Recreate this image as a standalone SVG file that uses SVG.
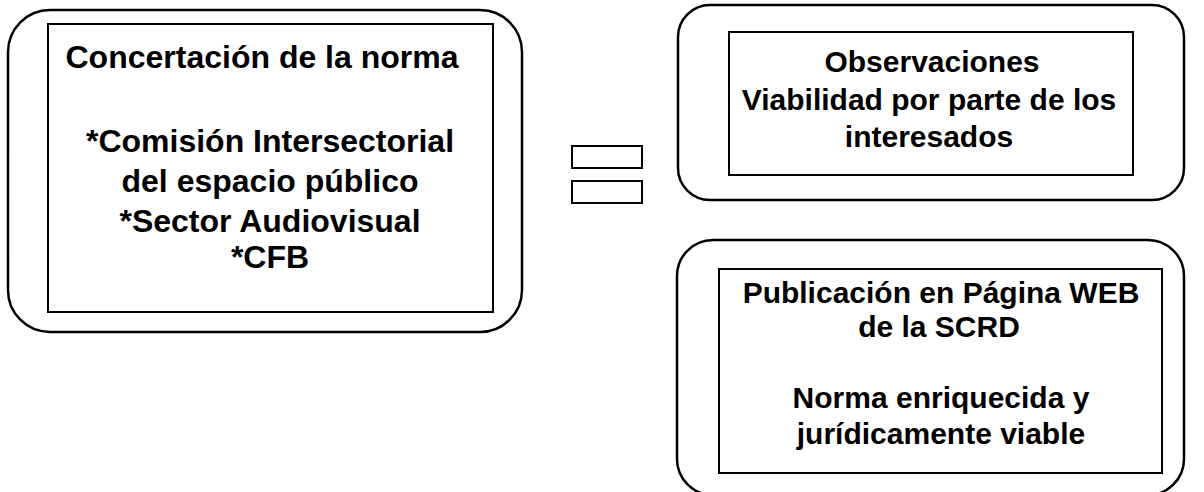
<svg xmlns="http://www.w3.org/2000/svg" width="1204" height="492" viewBox="0 0 1204 492">
<style>
.outer{fill:none;stroke:#000;stroke-width:2.5}
.inner{fill:none;stroke:#000;stroke-width:2}
.t{font-family:"Liberation Sans",Arial,sans-serif;font-weight:bold;fill:#000;text-anchor:middle}
.l{font-size:32px}
.r{font-size:30px}
</style>
<rect width="1204" height="492" fill="#fff"/>
<g id="node-concertacion">
<rect class="outer" x="8" y="10" width="514" height="322" rx="42" ry="42"/>
<rect class="inner" x="48" y="24" width="445" height="288"/>
<text class="t l" x="262" y="68">Concertación de la norma</text>
<text class="t l" x="270" y="152">*Comisión Intersectorial</text>
<text class="t l" x="270" y="192">del espacio público</text>
<text class="t l" x="270" y="232">*Sector Audiovisual</text>
<text class="t l" x="270" y="268">*CFB</text>
</g>
<g id="connectors">
<rect class="inner" x="572" y="146" width="70" height="22"/>
<rect class="inner" x="572" y="181" width="70" height="22"/>
</g>
<g id="node-observaciones">
<rect class="outer" x="678" y="5" width="506" height="195" rx="32" ry="32"/>
<rect class="inner" x="729" y="32" width="404" height="143"/>
<text class="t r" x="932" y="72">Observaciones</text>
<text class="t r" x="929" y="110">Viabilidad por parte de los</text>
<text class="t r" x="929" y="147">interesados</text>
</g>
<g id="node-publicacion">
<rect class="outer" x="677" y="240" width="507" height="255" rx="36" ry="36"/>
<rect class="inner" x="719" y="269" width="443" height="204"/>
<text class="t r" x="941" y="303">Publicación en Página WEB</text>
<text class="t r" x="939" y="337">de la SCRD</text>
<text class="t r" x="941" y="408">Norma enriquecida y</text>
<text class="t r" x="941" y="444">jurídicamente viable</text>
</g>
</svg>
